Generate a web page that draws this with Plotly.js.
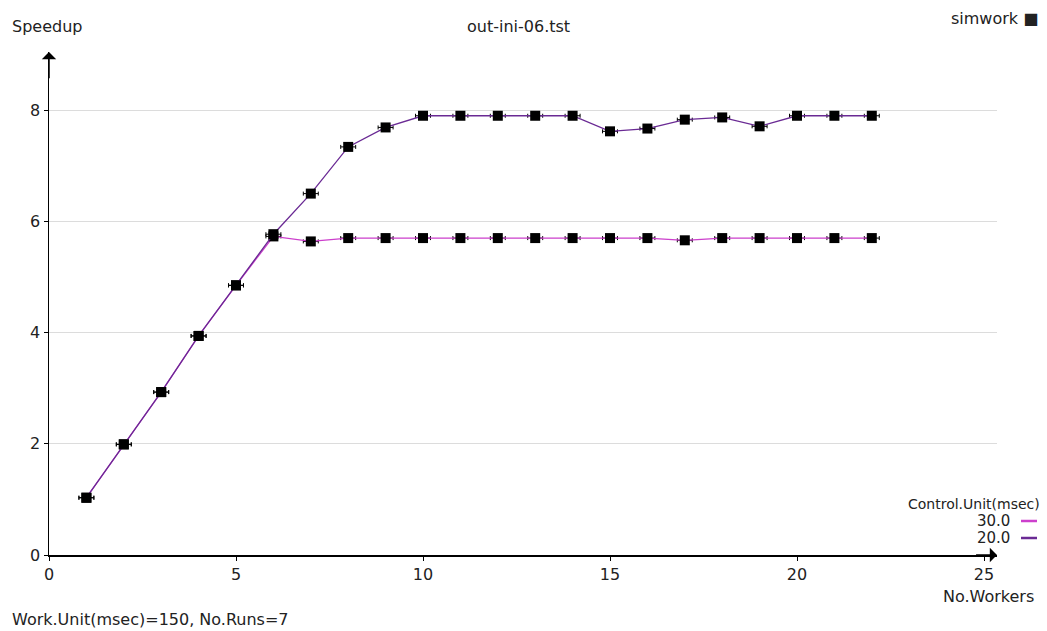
<!DOCTYPE html>
<html>
<head>
<meta charset="utf-8">
<script src="https://cdn.plot.ly/plotly-3.0.1.min.js"></script>
<style>html,body{margin:0;padding:0;background:#fff;}#chart{width:1047px;height:631px;}</style>
</head>
<body>
<div id="chart"></div>
<script>
// ---- data ----
const workers = [1,2,3,4,5,6,7,8,9,10,11,12,13,14,15,16,17,18,19,20,21,22];
const speedup30 = [1.03,1.99,2.93,3.94,4.85,5.73,5.64,5.70,5.70,5.70,5.70,5.70,5.70,5.70,5.70,5.70,5.66,5.70,5.70,5.70,5.70,5.70];
const speedup20 = [1.03,1.99,2.93,3.94,4.85,5.77,6.50,7.34,7.69,7.90,7.90,7.90,7.90,7.90,7.62,7.67,7.83,7.87,7.71,7.90,7.90,7.90];
const seriesNames = ["30.0", "20.0"];
const xTicks = [0,5,10,15,20,25];
const yTicks = [0,2,4,6,8];

// ---- layout constants ----
const W = 1047, H = 631;
const M = {l: 49, r: 50, t: 52, b: 76};
const pw = W - M.l - M.r, ph = H - M.t - M.b;
const xMax = pw / 37.4, yMax = ph / 55.6;
const px = v => (v - M.l) / pw;
const py = v => (H - M.b - v) / ph;
const FONT = "DejaVu Sans";
const colors = ["#cc3fcc", "#6a2a94"];

const errStyle = {type: 'constant', value: 0.2, width: 2, thickness: 1, color: '#000'};
const traces = [speedup30, speedup20].map((ys, i) => ({
  x: workers, y: ys, name: seriesNames[i], type: 'scatter', mode: 'lines+markers',
  line: {color: colors[i], width: 1.3},
  marker: {symbol: 'square', size: 10, color: '#000'},
  error_x: errStyle,
  showlegend: false, cliponaxis: false
}));

const txt = (s, x, y, xa, size) => ({text: s, xref: 'paper', yref: 'paper', x: px(x), y: py(y),
  xanchor: xa, yanchor: 'middle', showarrow: false, font: {family: FONT, size: size || 16, color: '#222'}});

const annotations = [
  txt("Speedup", 10, 27, 'left'),
  txt("out-ini-06.tst", 518, 27, 'center'),
  txt("simwork \u25A0", 1040, 18, 'right'),
  txt("No.Workers", 1036, 596, 'right'),
  txt("Work.Unit(msec)=150, No.Runs=7", 10, 619, 'left'),
  txt("Control.Unit(msec)", 1042, 504, 'right', 14),
  txt(seriesNames[0], 1012, 521, 'right', 15),
  txt(seriesNames[1], 1012, 538, 'right', 15),
  {x: 0, y: yMax, ax: 0, ay: yMax - 0.5, xref: 'x', yref: 'y', axref: 'x', ayref: 'y',
   showarrow: true, arrowhead: 1, arrowsize: 1.6, arrowwidth: 1.5, arrowcolor: '#000', text: ''},
  {x: xMax, y: 0, ax: xMax - 0.6, ay: 0, xref: 'x', yref: 'y', axref: 'x', ayref: 'y',
   showarrow: true, arrowhead: 1, arrowsize: 1.6, arrowwidth: 1.5, arrowcolor: '#000', text: ''}
];

const shapes = [
  {type: 'line', xref: 'paper', yref: 'paper', x0: px(1021), x1: px(1037), y0: py(521), y1: py(521), line: {color: colors[0], width: 2.5}},
  {type: 'line', xref: 'paper', yref: 'paper', x0: px(1021), x1: px(1037), y0: py(538), y1: py(538), line: {color: colors[1], width: 2.5}}
];

const layout = {
  width: W, height: H, margin: M,
  paper_bgcolor: '#fff', plot_bgcolor: '#fff',
  font: {family: FONT, size: 16, color: '#222'},
  xaxis: {range: [0, xMax], tickvals: xTicks, ticktext: xTicks.map(String), showgrid: false, zeroline: false,
    showline: true, linecolor: '#000', linewidth: 1.5, ticks: 'outside', ticklen: 4, tickcolor: '#000',
    tickfont: {family: FONT, size: 16, color: '#222'}},
  yaxis: {range: [0, yMax], tickvals: yTicks, ticktext: yTicks.map(String), showgrid: true, gridcolor: '#dcdcdc', gridwidth: 1,
    zeroline: false, showline: true, linecolor: '#000', linewidth: 1.5, ticks: 'outside', ticklen: 4, tickcolor: '#000',
    tickfont: {family: FONT, size: 16, color: '#222'}},
  showlegend: false,
  annotations: annotations, shapes: shapes
};

Plotly.newPlot('chart', traces, layout, {displayModeBar: false, staticPlot: true});
</script>
</body>
</html>
